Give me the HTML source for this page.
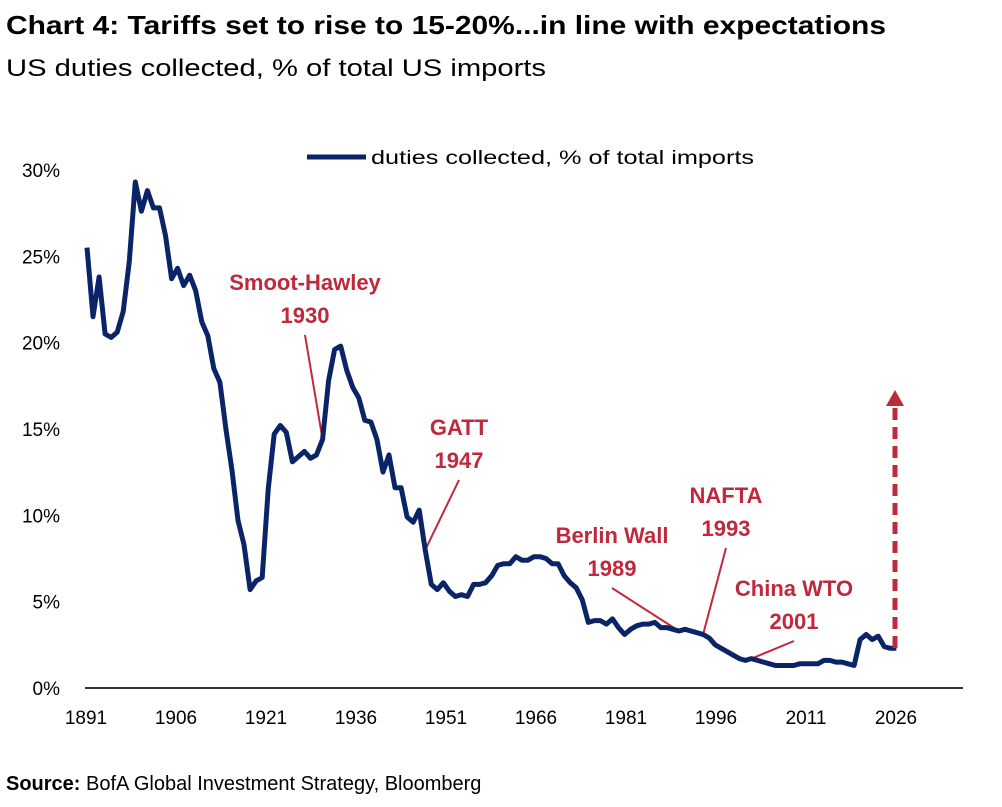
<!DOCTYPE html>
<html><head><meta charset="utf-8"><style>
body{margin:0;background:#fff;width:1002px;height:802px;overflow:hidden;font-family:"Liberation Sans",sans-serif}
</style></head><body>
<svg width="1002" height="802" xmlns="http://www.w3.org/2000/svg">
<text x="6" y="34" font-size="26" font-weight="bold" fill="#000" textLength="880" lengthAdjust="spacingAndGlyphs">Chart 4: Tariffs set to rise to 15-20%...in line with expectations</text>
<text x="6" y="76" font-size="24" fill="#000" textLength="540" lengthAdjust="spacingAndGlyphs">US duties collected, % of total US imports</text>
<g id="yaxis"></g>
<g id="xaxis"></g>
<line x1="85" y1="688" x2="963" y2="688" stroke="#333" stroke-width="2"/>
<g>
<line x1="307" y1="157" x2="366" y2="157" stroke="#0b2468" stroke-width="5"/>
<text x="371" y="164" font-size="19" fill="#000" textLength="383" lengthAdjust="spacingAndGlyphs">duties collected, % of total imports</text>
</g>
<g id="annot" font-size="22" font-weight="bold" fill="#c0283c" text-anchor="middle"></g>
<path id="series" fill="none" stroke="#0b2468" stroke-width="5" stroke-linejoin="round"/>
<line x1="895" y1="648" x2="895" y2="405" stroke="#c0283c" stroke-width="5" stroke-dasharray="12,7"/>
<polygon points="886,406 904,406 895,390" fill="#c0283c"/>
<text x="6" y="790" font-size="20" fill="#000"><tspan font-weight="bold">Source:</tspan> BofA Global Investment Strategy, Bloomberg</text>
</svg>
<script>
const startYear = 1891;
const values = [25.5,21.5,23.8,20.5,20.3,20.6,21.8,24.7,29.3,27.6,28.8,27.8,27.8,26.2,23.7,24.3,23.3,23.9,23.0,21.2,
20.4,18.5,17.7,15.0,12.6,9.7,8.3,5.7,6.2,6.4,11.5,14.7,15.2,14.8,13.1,13.4,13.7,13.3,13.5,14.4,
17.8,19.6,19.8,18.4,17.4,16.8,15.5,15.4,14.4,12.5,13.5,11.6,11.6,9.9,9.6,10.3,8.0,6.0,5.7,6.1,
5.6,5.3,5.4,5.3,6.0,6.0,6.1,6.5,7.1,7.2,7.2,7.6,7.4,7.4,7.6,7.6,7.5,7.2,7.2,6.5,
6.1,5.8,5.1,3.8,3.9,3.9,3.7,4.0,3.5,3.1,3.4,3.6,3.7,3.7,3.8,3.5,3.5,3.4,3.3,3.4,
3.3,3.2,3.1,2.9,2.5,2.3,2.1,1.9,1.7,1.6,1.7,1.6,1.5,1.4,1.3,1.3,1.3,1.3,1.4,1.4,
1.4,1.4,1.6,1.6,1.5,1.5,1.4,1.3,2.8,3.1,2.8,3.0,2.4,2.3,2.3];
const yTicks = [0,5,10,15,20,25,30];
const xTicks = [1891,1906,1921,1936,1951,1966,1981,1996,2011,2026];
const annotYears = [1930,1947,1989,1993,2001];
const annotLabels = [["Smoot-Hawley","1930"],["GATT","1947"],["Berlin Wall","1989"],["NAFTA","1993"],["China WTO","2001"]];
const annotTextPos = [[305,290],[459,435],[612,543],[726,503],[794,596]];
const NS="http://www.w3.org/2000/svg";
const xs = yr => 85 + (yr-1891)*6.0;
const xl = yr => 87 + (yr-1891)*6.04;
const ys = v => 688 - v*17.27;
const ya=document.getElementById('yaxis');
yTicks.forEach(t=>{const e=document.createElementNS(NS,'text');
e.setAttribute('x',60);e.setAttribute('y',ys(t)+7);e.setAttribute('font-size',19);e.setAttribute('text-anchor','end');


e.textContent=t+'%';ya.appendChild(e);});
const xa=document.getElementById('xaxis');
xTicks.forEach(t=>{const e=document.createElementNS(NS,'text');
e.setAttribute('x',xs(t)+1);e.setAttribute('y',724);e.setAttribute('font-size',19);e.setAttribute('text-anchor','middle');


e.textContent=t;xa.appendChild(e);});
let d='';values.forEach((v,i)=>{d+=(i?'L':'M')+xl(startYear+i).toFixed(1)+','+ys(v).toFixed(1);});
document.getElementById('series').setAttribute('d',d);
const an=document.getElementById('annot');
annotYears.forEach((yr,i)=>{const [tx,ty]=annotTextPos[i];
annotLabels[i].forEach((s,j)=>{const e=document.createElementNS(NS,'text');
e.setAttribute('x',tx);e.setAttribute('y',ty+j*33);


e.textContent=s;an.appendChild(e);});
const v=values[yr-startYear];
const l=document.createElementNS(NS,'line');
l.setAttribute('x1',tx);l.setAttribute('y1',ty+45);l.setAttribute('x2',xl(yr));l.setAttribute('y2',ys(v));
l.setAttribute('stroke','#c0283c');l.setAttribute('stroke-width',2);


an.appendChild(l);});
</script>
</body></html>
